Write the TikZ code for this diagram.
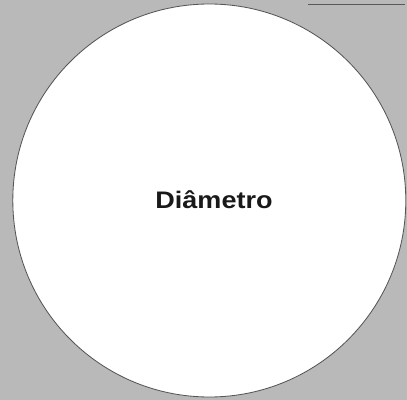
\documentclass[tikz,border=0pt]{standalone}
\usepackage{fontspec}
\setmainfont{Liberation Sans}
\definecolor{bggray}{HTML}{B9B9B9}
\definecolor{edge}{HTML}{555555}
\tikzset{
  disc/.style={circle, draw=edge, line width=0.6pt, fill=white, minimum size=393*0.025cm, inner sep=0pt},
  label/.style={font=\bfseries\fontsize{17}{20}\selectfont, text=black!90, xscale=1.13, inner sep=0pt, anchor=base},
  artifact/.style={draw=gray!70!black, line width=0.5pt}
}
\begin{document}
\begin{tikzpicture}[x=0.025cm,y=-0.025cm]
\fill[bggray] (0,0) rectangle (407,400);
\useasboundingbox (0,0) rectangle (407,400);
\node[disc] (c) at (209.3,200.5) {};
\coordinate (a1) at (308,4);
\coordinate (a2) at (405,4);
\draw[artifact] (a1) -- (a2);
\node[label] (t) at (214,208.3) {Diâmetro};
\end{tikzpicture}
\end{document}
